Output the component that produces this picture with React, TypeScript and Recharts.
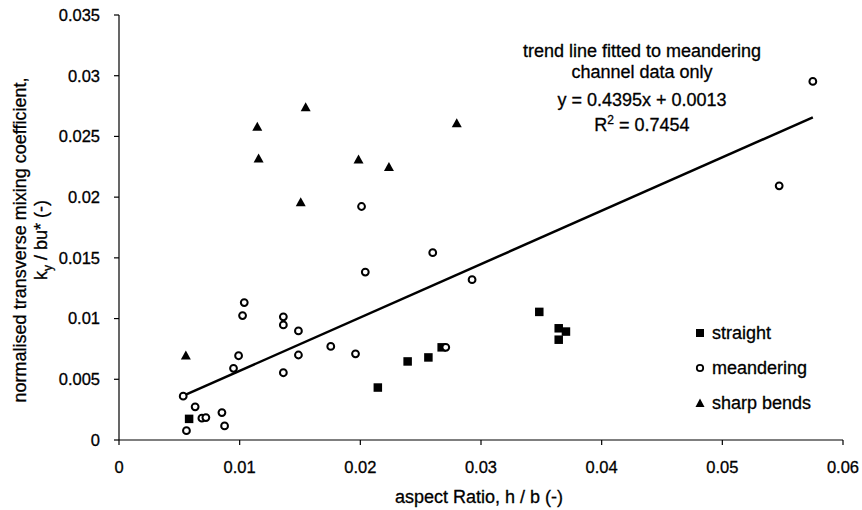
import React from 'react';
import { ScatterChart, Scatter, XAxis, YAxis, ReferenceLine } from 'recharts';

const straightX = [0.00581, 0.02145, 0.02392, 0.02564, 0.02674, 0.03483, 0.03644, 0.03704, 0.03644];
const straightY = [0.00174, 0.00432, 0.00647, 0.0068, 0.00763, 0.01055, 0.0092, 0.00893, 0.00826];

const meanderingX = [0.00532, 0.00559, 0.00631, 0.00687, 0.0072, 0.00853, 0.00875, 0.00949, 0.00991, 0.01024, 0.01038, 0.01362, 0.01362, 0.01362, 0.01487, 0.01487, 0.01755, 0.0196, 0.0201, 0.02041, 0.026, 0.02708, 0.02926, 0.05471, 0.0575];
const meanderingY = [0.00361, 0.00077, 0.00273, 0.0018, 0.00185, 0.00226, 0.00116, 0.0059, 0.00694, 0.01025, 0.01132, 0.01014, 0.00948, 0.00554, 0.00898, 0.007, 0.00771, 0.0071, 0.01923, 0.01383, 0.01543, 0.00763, 0.0132, 0.02093, 0.02953];

const sharpX = [0.00554, 0.01146, 0.01157, 0.01506, 0.01547, 0.01985, 0.02237, 0.02799];
const sharpY = [0.00697, 0.02581, 0.0232, 0.01959, 0.02741, 0.02311, 0.0225, 0.0261];

const trendSlope = 0.4395;
const trendIntercept = 0.0013;
const trendXRange = [0.0053, 0.0575];

const xTicks = [0, 0.01, 0.02, 0.03, 0.04, 0.05, 0.06];
const xTickLabels = ['0', '0.01', '0.02', '0.03', '0.04', '0.05', '0.06'];
const yTicks = [0, 0.005, 0.01, 0.015, 0.02, 0.025, 0.03, 0.035];
const yTickLabels = ['0', '0.005', '0.01', '0.015', '0.02', '0.025', '0.03', '0.035'];

const annotationLines = ['trend line fitted to meandering', 'channel data only', 'y = 0.4395x + 0.0013'];
const legendItems = ['straight', 'meandering', 'sharp bends'];

const zip = (xs: number[], ys: number[]) => xs.map((x, i) => ({ x, y: ys[i] }));
const straight = zip(straightX, straightY);
const meandering = zip(meanderingX, meanderingY);
const sharp = zip(sharpX, sharpY);
const trendSeg = trendXRange.map((x) => ({ x, y: trendSlope * x + trendIntercept }));

const FONT = '"Liberation Sans", Arial, sans-serif';

const Square = (p: any) => <rect x={p.cx - 4.25} y={p.cy - 4.25} width={8.5} height={8.5} fill="#000" />;
const Circle = (p: any) => <circle cx={p.cx} cy={p.cy} r={3.4} fill="#fff" stroke="#000" strokeWidth={2} />;
const Tri = (p: any) => (
  <polygon points={`${p.cx - 5},${p.cy + 4.2} ${p.cx + 5},${p.cy + 4.2} ${p.cx},${p.cy - 4.8}`} fill="#000" />
);

const Overlay = () => (
  <g fontFamily={FONT} fill="#000" stroke="#000" strokeWidth={0.3}>
    <text x={642} y={57} fontSize={18} textAnchor="middle">{annotationLines[0]}</text>
    <text x={642} y={78} fontSize={18} textAnchor="middle">{annotationLines[1]}</text>
    <text x={642} y={106} fontSize={18} textAnchor="middle">{annotationLines[2]}</text>
    <text x={642} y={131} fontSize={18} textAnchor="middle">
      R<tspan dy={-7} fontSize={12}>2</tspan><tspan dy={7}> = 0.7454</tspan>
    </text>
    <rect x={696} y={329} width={8} height={8} fill="#000" stroke="none" />
    <text x={712} y={339} fontSize={18}>{legendItems[0]}</text>
    <circle cx={700} cy={368} r={3.2} fill="#fff" stroke="#000" strokeWidth={1.8} />
    <text x={712} y={374} fontSize={18}>{legendItems[1]}</text>
    <polygon points="695.5,407 704.5,407 700,398.5" fill="#000" stroke="none" />
    <text x={712} y={409} fontSize={18}>{legendItems[2]}</text>
    <text x={479} y={503} fontSize={18} textAnchor="middle">aspect Ratio, h / b (-)</text>
    <text transform="translate(26,240) rotate(-90)" fontSize={18} textAnchor="middle">normalised transverse mixing coefficient,</text>
    <text transform="translate(47,240) rotate(-90)" fontSize={18} textAnchor="middle">
      k<tspan dy={5} fontSize={12}>y</tspan><tspan dy={-5}> / bu* (-)</tspan>
    </text>
  </g>
);

const tickStyle = { fill: '#000', stroke: '#000', strokeWidth: 0.3, fontSize: 16.5, fontFamily: FONT };

export default function App() {
  return (
    <div style={{ width: 862, height: 510, overflow: 'hidden', background: '#fff' }}>
      <style>{'html,body{margin:0;padding:0;overflow:hidden;background:#fff}'}</style>
      <ScatterChart width={862} height={510} margin={{ top: 15, right: 19, bottom: 40, left: 59 }}>
        <XAxis
          type="number"
          dataKey="x"
          domain={[0, 0.06]}
          ticks={xTicks}
          tickFormatter={(v: number) => xTickLabels[xTicks.indexOf(v)] ?? String(v)}
          allowDataOverflow
          height={30}
          tickSize={5}
          tickMargin={16}
          axisLine={{ stroke: '#000', strokeWidth: 1.2 }}
          tickLine={{ stroke: '#000', strokeWidth: 1.2 }}
          tick={tickStyle}
        />
        <YAxis
          type="number"
          dataKey="y"
          domain={[0, 0.035]}
          ticks={yTicks}
          tickFormatter={(v: number) => yTickLabels[yTicks.indexOf(v)] ?? String(v)}
          allowDataOverflow
          width={60}
          tickSize={5}
          tickMargin={14}
          axisLine={{ stroke: '#000', strokeWidth: 1.2 }}
          tickLine={{ stroke: '#000', strokeWidth: 1.2 }}
          tick={tickStyle}
        />
        <ReferenceLine segment={trendSeg} stroke="#000" strokeWidth={2.5} ifOverflow="visible" />
        <Scatter name="straight" data={straight} shape={Square} isAnimationActive={false} />
        <Scatter name="meandering" data={meandering} shape={Circle} isAnimationActive={false} />
        <Scatter name="sharp bends" data={sharp} shape={Tri} isAnimationActive={false} />
        <Overlay />
      </ScatterChart>
    </div>
  );
}
